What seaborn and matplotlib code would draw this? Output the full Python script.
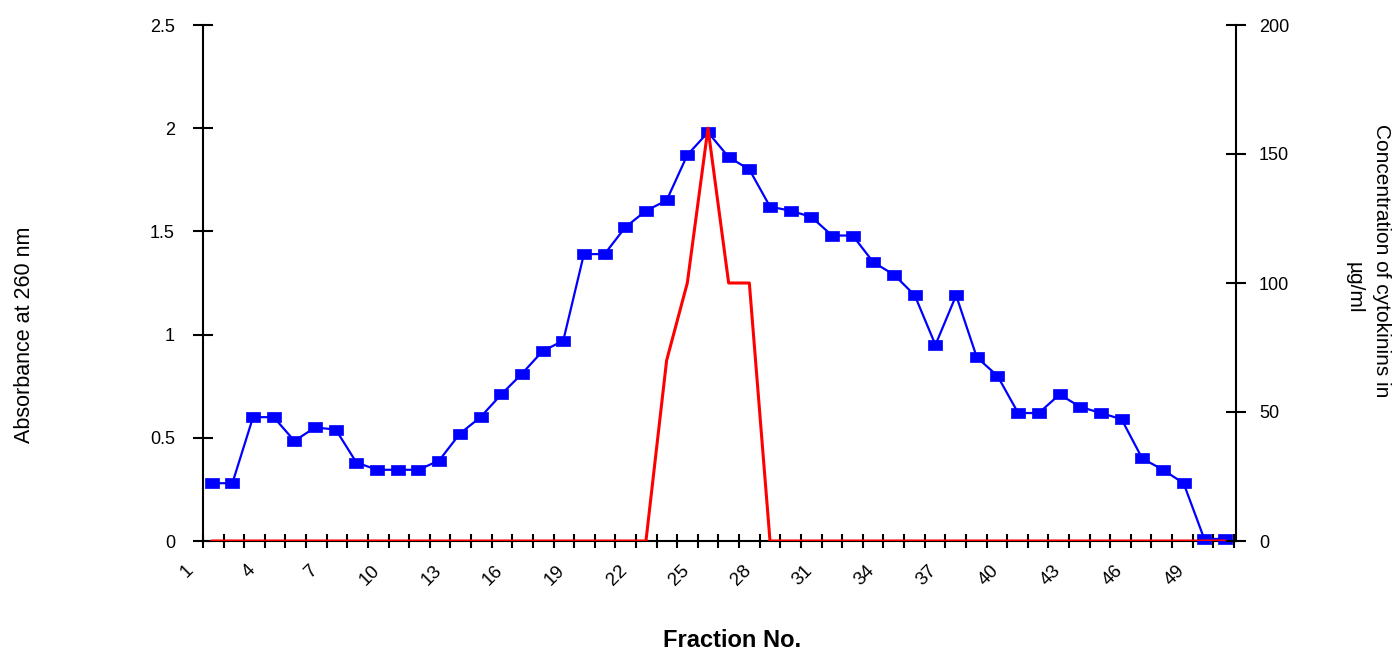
import numpy as np
import pandas as pd
import matplotlib
matplotlib.use("Agg")
import matplotlib.pyplot as plt
import matplotlib.transforms as mtransforms
import seaborn as sns

# ---------------- data ----------------
fraction = list(range(2, 52))  # 50 fractions with measurements
absorbance = [0.28, 0.28, 0.60, 0.60, 0.485, 0.55, 0.54, 0.38, 0.345, 0.345,
              0.345, 0.39, 0.52, 0.60, 0.71, 0.81, 0.92, 0.97, 1.39, 1.39,
              1.52, 1.60, 1.65, 1.87, 1.98, 1.86, 1.80, 1.62, 1.60, 1.57,
              1.48, 1.48, 1.35, 1.29, 1.19, 0.95, 1.19, 0.89, 0.80, 0.62,
              0.62, 0.71, 0.65, 0.62, 0.59, 0.40, 0.345, 0.28, 0.01, 0.01]
cytokinin = [0, 0, 0, 0, 0, 0, 0, 0, 0, 0,
             0, 0, 0, 0, 0, 0, 0, 0, 0, 0,
             0, 0, 70, 100, 160, 100, 100, 0, 0, 0,
             0, 0, 0, 0, 0, 0, 0, 0, 0, 0,
             0, 0, 0, 0, 0, 0, 0, 0, 0, 0]
x_tick_labels = [str(f) for f in range(1, 50, 3)]
left_ticks = [0, 0.5, 1, 1.5, 2, 2.5]
left_tick_labels = ["0", "0.5", "1", "1.5", "2", "2.5"]
right_ticks = [0, 50, 100, 150, 200]
right_tick_labels = ["0", "50", "100", "150", "200"]

df = pd.DataFrame({"fraction": fraction, "absorbance": absorbance,
                   "cytokinin": cytokinin})

# ---------------- style ----------------
sns.set_theme(style="white")
plt.rcParams["font.family"] = ["Liberation Sans", "DejaVu Sans"]

fig = plt.figure(figsize=(13.95, 6.52), dpi=100)
ax = fig.add_axes([203 / 1395, 1 - 541 / 652, (1235.7 - 203) / 1395, (541 - 25) / 652])
ax2 = ax.twinx()

rect = [(-1, -0.8), (1, -0.8), (1, 0.8), (-1, 0.8), (-1, -0.8)]
sns.lineplot(data=df, x="fraction", y="absorbance", ax=ax, color="#0000FF",
             lw=1.6, marker=rect, markersize=9.5, markeredgecolor="#0000FF",
             markeredgewidth=0.5, legend=False, clip_on=False, zorder=3)
sns.lineplot(data=df, x="fraction", y="cytokinin", ax=ax2, color="#FF0000",
             lw=2.2, legend=False, zorder=3)

# limits
ax.set_xlim(1.58, 51.52)
ax.set_ylim(0, 2.5)
ax2.set_ylim(0, 200)

# spines
for a in (ax, ax2):
    for s in a.spines.values():
        s.set_color("black")
        s.set_linewidth(1.5)
    a.spines["top"].set_visible(False)
ax.spines["right"].set_visible(False)
ax2.spines["left"].set_visible(False)
ax2.spines["bottom"].set_visible(False)

# y ticks
ax.set_yticks(left_ticks, labels=left_tick_labels)
ax2.set_yticks(right_ticks, labels=right_tick_labels)
ax.tick_params(axis="y", direction="inout", length=14.4, width=1.5, pad=13,
               labelsize=13, colors="black")
ax2.tick_params(axis="y", direction="inout", length=14.4, width=1.5, pad=9.5,
                labelsize=13, colors="black")

# x ticks (marks between categories) and rotated labels
ax.set_xticks([])
minor_pos = [2 + (202 - 210.7 + 20.64 * k) / 20.7 for k in range(51)]
ax.set_xticks(minor_pos, minor=True)
ax.tick_params(axis="x", which="minor", direction="inout", length=10, width=1.5,
               colors="black", bottom=True)
trans = mtransforms.blended_transform_factory(ax.transData, ax.transAxes)
for lab in x_tick_labels:
    f = int(lab)
    xpos = 0.71 + 0.998 * (f - 1)
    ax.text(xpos, -0.040, lab, transform=trans, rotation=45,
            rotation_mode="anchor", ha="right", va="top", fontsize=13.5,
            color="black", clip_on=False)

# axis labels
ax.set_xlabel("Fraction No.", fontsize=17, fontweight="bold", color="black")
ax.xaxis.label.set_va("center")
ax.xaxis.set_label_coords(0.512, -0.192)

ax.set_ylabel("Absorbance at 260 nm", fontsize=15.5, color="black")
ax.yaxis.label.set_va("center")
ax.yaxis.set_label_coords(-0.1733, 0.400)

ax2.set_ylabel("Concentration of cytokinins in", fontsize=15,
               color="black", rotation=270)
ax2.yaxis.label.set_va("center")
ax2.yaxis.label.set_ha("center")
ax2.yaxis.set_label_coords(1.1407, 0.5426)
ax2.text(1.1146, 0.4903, "µg/ml", transform=ax2.transAxes, rotation=270,
         rotation_mode="anchor", ha="center", va="center", fontsize=15,
         color="black")

ax.grid(False)
ax2.grid(False)

fig.savefig("out.png", dpi=100)
